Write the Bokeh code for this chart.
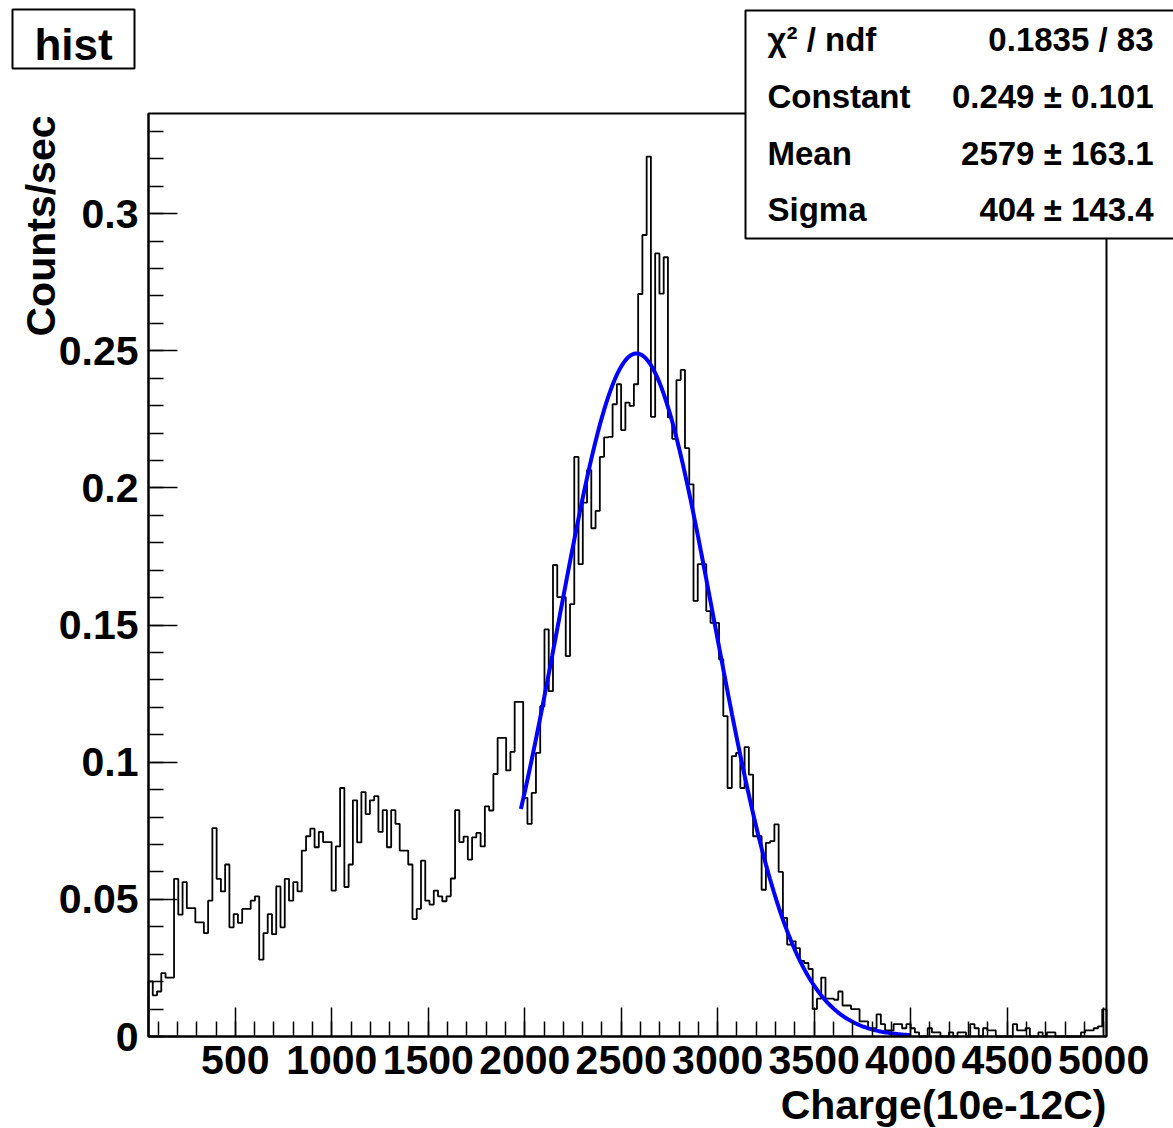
import numpy as np
from bokeh.plotting import figure
from bokeh.models import FixedTicker, Label, BoxAnnotation, Range1d
from bokeh.embed import file_html
from bokeh.resources import INLINE

# ---- histogram: charge spectrum (counts/sec per bin) ----
x_lo, x_hi, n_bins = 50.0, 5015.0, 225
y_top = 0.3365

rate_low = [0.0201, 0.0150, 0.0164, 0.0231, 0.0215, 0.0215, 0.0575, 0.0444, 0.0563, 0.0468,
            0.0468, 0.0416, 0.0416, 0.0377, 0.0495, 0.0760, 0.0575, 0.0529, 0.0627, 0.0398,
            0.0446, 0.0414, 0.0465, 0.0465, 0.0495, 0.0511, 0.0280, 0.0377, 0.0446, 0.0373,
            0.0547, 0.0398, 0.0575, 0.0495, 0.0563, 0.0529, 0.0678, 0.0730]
rate_bump = [0.0758, 0.0690, 0.0746, 0.0709, 0.0709, 0.0532, 0.0693, 0.0906, 0.0545, 0.0627,
             0.0861, 0.0708, 0.0891, 0.0811, 0.0861, 0.0876, 0.0746, 0.0825, 0.0690, 0.0825,
             0.0775, 0.0678, 0.0678, 0.0627, 0.0428, 0.0465, 0.0641, 0.0495, 0.0481, 0.0532,
             0.0511, 0.0493, 0.0511, 0.0576, 0.0825, 0.0709, 0.0729]
rate_rise = [0.0645, 0.0726, 0.0742, 0.0693, 0.0839, 0.0824, 0.0957, 0.1089, 0.1089, 0.0970,
             0.1038, 0.1220, 0.1220, 0.0870, 0.0775, 0.0888, 0.1034, 0.1204,
             0.1484, 0.1259, 0.1719, 0.1602, 0.1602, 0.1387, 0.1576, 0.2113, 0.1722, 0.1946,
             0.2065, 0.1853, 0.1916, 0.2113, 0.2184, 0.2186, 0.2305, 0.2378, 0.2211, 0.2311,
             0.2299, 0.2378]
rate_peak = [0.2707, 0.2922, 0.3208, 0.2259, 0.2855, 0.2708, 0.2841, 0.2257, 0.2179, 0.2393,
             0.2430, 0.2145, 0.2013, 0.1588, 0.1722, 0.1722, 0.1551, 0.1508, 0.1508, 0.1375,
             0.1168]
rate_fall = [0.0906, 0.1022, 0.1034, 0.0906, 0.1055, 0.0955, 0.0730, 0.0730, 0.0535, 0.0706,
             0.0712, 0.0773, 0.0600, 0.0432, 0.0335]
rate_tail = [0.0347, 0.0322, 0.0276, 0.0268, 0.0246, 0.0100, 0.0138, 0.0215, 0.0138, 0.0138,
             0.0134, 0.0164, 0.0113, 0.0113, 0.0100, 0.0100, 0.0055, 0.0055, 0.0030, 0.0030,
             0.0081, 0.0045, 0.0022, 0.0022, 0.0045, 0.0045, 0.0030, 0.0045, 0.0030, 0.0015,
             0.0, 0.0, 0.0030, 0.0015, 0.0015, 0.0, 0.0, 0.0015, 0.0, 0.0015,
             0.0015, 0.0, 0.0045, 0.0030, 0.0, 0.0030, 0.0022, 0.0022, 0.0, 0.0,
             0.0, 0.0, 0.0045, 0.0022, 0.0022, 0.0030, 0.0, 0.0, 0.0015, 0.0,
             0.0015, 0.0015, 0.0, 0.0, 0.0, 0.0, 0.0, 0.0, 0.0015, 0.0022,
             0.0022, 0.0030, 0.0037, 0.0099]
rate = rate_low + rate_bump + rate_rise + rate_peak + rate_fall + rate_tail

# ---- gaussian fit result ----
fit_constant, fit_mean, fit_sigma = 0.249, 2579.0, 404.0
fit_lo, fit_hi = 1980.0, 4000.0
stat_names = ["\u03c7\u00b2 / ndf", "Constant", "Mean", "Sigma"]
stat_values = ["0.1835 / 83", "0.249 \u00b1 0.101", "2579 \u00b1 163.1", "404 \u00b1 143.4"]

# ---- axis ticks ----
x_ticks = [500, 1000, 1500, 2000, 2500, 3000, 3500, 4000, 4500, 5000]
x_tick_labels = ["500", "1000", "1500", "2000", "2500", "3000", "3500", "4000", "4500", "5000"]
y_ticks = [0, 0.05, 0.1, 0.15, 0.2, 0.25, 0.3]
y_tick_labels = ["0", "0.05", "0.1", "0.15", "0.2", "0.25", "0.3"]

# canvas and pad geometry (pixels from the top-left corner)
W, H = 1173, 1128
PAD_L, PAD_R, PAD_T, PAD_B = 148, 1106, 113, 1036
FONT = "Liberation Sans"
LIFT = 13  # label anchor correction so glyph baselines land where intended

# the drawing frame fills the whole canvas; the axes sit at fixed positions
kx = (PAD_R - PAD_L) / (x_hi - x_lo)
ky = (PAD_B - PAD_T) / y_top
x_range = Range1d(x_lo - PAD_L / kx, x_hi + (W - PAD_R) / kx)
y_range = Range1d(0.0 - (H - PAD_B) / ky, y_top + PAD_T / ky)

p = figure(width=W, height=H, output_backend="svg", toolbar_location=None,
           x_range=x_range, y_range=y_range, min_border=0)
p.background_fill_color = "white"
p.border_fill_color = "white"
p.outline_line_color = None
p.xgrid.visible = False
p.ygrid.visible = False

p.xaxis.fixed_location = 0.0
p.yaxis.fixed_location = x_lo
p.xaxis.bounds = (x_lo, x_hi)
p.yaxis.bounds = (0.0, y_top)
p.xaxis.ticker = FixedTicker(ticks=x_ticks, minor_ticks=list(range(100, 5001, 100)))
p.xaxis.major_label_overrides = dict(zip(x_ticks, x_tick_labels))
p.yaxis.ticker = FixedTicker(ticks=y_ticks,
                             minor_ticks=[round(0.01 * k, 2) for k in range(0, 34)])
p.yaxis.major_label_overrides = dict(zip(y_ticks, y_tick_labels))

for ax in (p.xaxis[0], p.yaxis[0]):
    ax.major_tick_in = 29
    ax.major_tick_out = 0
    ax.minor_tick_in = 15
    ax.minor_tick_out = 0
    ax.major_tick_line_color = "black"
    ax.minor_tick_line_color = "black"
    ax.major_tick_line_width = 1.5
    ax.minor_tick_line_width = 1.5
    ax.axis_line_color = "black"
    ax.axis_line_width = 2
    ax.major_label_text_font = FONT
    ax.major_label_text_font_style = "bold"
    ax.major_label_text_font_size = "41px"
    ax.major_label_text_color = "black"
p.xaxis.major_label_standoff = 9
p.yaxis.major_label_standoff = 10

# pad frame
p.add_layout(BoxAnnotation(left=x_lo, right=x_hi, bottom=0.0, top=y_top,
                           fill_color=None, line_color="black", line_alpha=1.0,
                           line_width=2))

# histogram outline drawn as a step contour
edges = np.linspace(x_lo, x_hi, n_bins + 1)
vals = np.array(rate)
step_x = np.concatenate([[edges[0]], edges[:-1], [edges[-1], edges[-1]]])
step_y = np.concatenate([[0.0], vals, [vals[-1], 0.0]])
p.step(step_x, step_y, mode="after", line_color="black", line_width=1.8)

# gaussian fit curve
fx = np.linspace(fit_lo, fit_hi, 300)
fy = fit_constant * np.exp(-0.5 * ((fx - fit_mean) / fit_sigma) ** 2)
p.line(fx, fy, line_color="#0000ff", line_width=4)


def text(px, py, s, size, align="left", angle=0.0):
    if angle:
        ax_, ay_ = px - LIFT, H - py
    else:
        ax_, ay_ = px, H - py + LIFT
    p.add_layout(Label(x=ax_, y=ay_, x_units="screen", y_units="screen", text=s,
                       text_font=FONT, text_font_style="bold", text_font_size=size,
                       text_color="black", text_align=align, text_baseline="alphabetic",
                       angle=angle))


def box(left, top, right, bottom):
    p.add_layout(BoxAnnotation(left=left, right=right, top=H - top, bottom=H - bottom,
                               left_units="screen", right_units="screen",
                               top_units="screen", bottom_units="screen",
                               fill_color="white", fill_alpha=1.0,
                               line_color="black", line_alpha=1.0, line_width=2))


# axis titles
text(1106, 1117, "Charge(10e-12C)", "41px", align="right")
text(53, 115, "Counts/sec", "41px", align="right", angle=np.pi / 2)

# title box
box(12, 9, 134, 68)
text(73, 57, "hist", "44px", align="center")

# fit statistics box
box(745, 10, 1190, 238)
row_base = [52, 109, 166, 222]
for name, val, yb in zip(stat_names, stat_values, row_base):
    text(767, yb, name, "33px")
    text(1153, yb, val, "33px", align="right")

open("out.html", "w").write(file_html(p, INLINE))
